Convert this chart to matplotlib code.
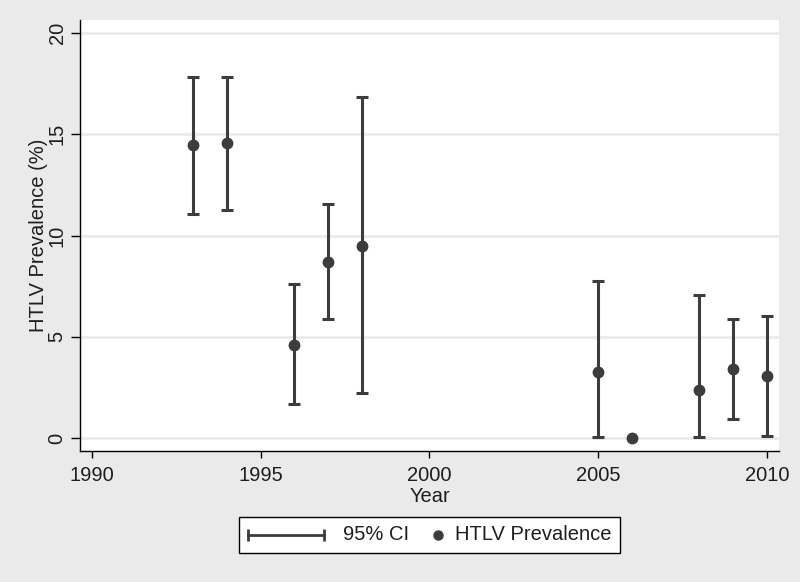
import numpy as np
import matplotlib
matplotlib.use("Agg")
import matplotlib.pyplot as plt
from matplotlib.lines import Line2D
from matplotlib.offsetbox import AnchoredOffsetbox, DrawingArea, TextArea, HPacker

plt.rcParams['font.family'] = ['Liberation Sans', 'DejaVu Sans']

# data
years = np.array([1993, 1994, 1996, 1997, 1998, 2005, 2006, 2008, 2009, 2010])
prev = np.array([14.45, 14.57, 4.6, 8.7, 9.5, 3.27, 0.0, 2.38, 3.41, 3.06])
ci_lo = np.array([11.06, 11.26, 1.69, 5.88, 2.22, 0.03, np.nan, 0.03, 0.95, 0.1])
ci_hi = np.array([17.85, 17.85, 7.6, 11.54, 16.83, 7.77, np.nan, 7.08, 5.88, 6.05])
xticks = [1990, 1995, 2000, 2005, 2010]
yticks = [0, 5, 10, 15, 20]

bg = '#eaeaea'
mark = '#3c3c3c'
txt = '#1e1e1e'

fig = plt.figure(figsize=(8, 5.82), dpi=100, facecolor=bg)
ax = fig.add_axes([80/800, 1-451/582, 699/800, 431/582])
ax.set_facecolor('white')

# gridlines
for v in yticks:
    ax.axhline(v, color=bg, lw=2, zorder=0)

ok = ~np.isnan(ci_lo)
ax.errorbar(years[ok], prev[ok], yerr=[prev[ok]-ci_lo[ok], ci_hi[ok]-prev[ok]],
            fmt='none', ecolor=mark, elinewidth=2.2, capsize=4, capthick=2.2, zorder=2)
ax.plot(years, prev, 'o', color=mark, ms=7.5, zorder=3)

ax.set_xlim(1989.65, 2010.36)
ax.set_ylim(-0.64, 20.64)
ax.set_xticks(xticks)
ax.set_yticks(yticks)
ax.tick_params(axis='both', direction='out', length=6.5, width=1, color='black',
               labelsize=14.5, labelcolor=txt)
ax.tick_params(axis='x', pad=6, length=5)
ax.tick_params(axis='y', pad=3.2)
for lab in ax.get_yticklabels():
    lab.set_rotation(90)
    lab.set_va('center')
for s in ['top', 'right']:
    ax.spines[s].set_visible(False)
for s in ['left', 'bottom']:
    ax.spines[s].set_color('black')
    ax.spines[s].set_linewidth(1)

ax.set_xlabel('Year', fontsize=14.5, color=txt, labelpad=1.5)
ax.set_ylabel('HTLV Prevalence (%)', fontsize=14.5, color=txt, labelpad=0)

# legend built by hand: wide rcap handle, small dot handle
h = 15
da_ci = DrawingArea(56, h, 0, 0)
da_ci.add_artist(Line2D([0.8, 55.2], [h/2, h/2], color=mark, lw=2,
                        marker='|', ms=9, mew=2))
da_dot = DrawingArea(7, h, 0, 0)
da_dot.add_artist(Line2D([3.5], [h/2], color=mark, marker='o', ms=6.5, lw=0))
t1 = TextArea('95% CI', textprops=dict(fontsize=14.5, color=txt))
t2 = TextArea('HTLV Prevalence', textprops=dict(fontsize=14.5, color=txt))
row = HPacker(children=[HPacker(children=[da_ci, t1], sep=13, align='center'),
                        HPacker(children=[da_dot, t2], sep=9, align='center')],
              sep=17, align='center')
leg = AnchoredOffsetbox(loc='center', child=row, pad=0.4, borderpad=0, frameon=True,
                        prop=dict(size=14.5),
                        bbox_to_anchor=(429.5/800, 1-535/582), bbox_transform=fig.transFigure)
leg.patch.set_edgecolor('black')
leg.patch.set_facecolor('white')
leg.patch.set_linewidth(1)
fig.add_artist(leg)

fig.savefig('out.png', dpi=100, facecolor=bg)
